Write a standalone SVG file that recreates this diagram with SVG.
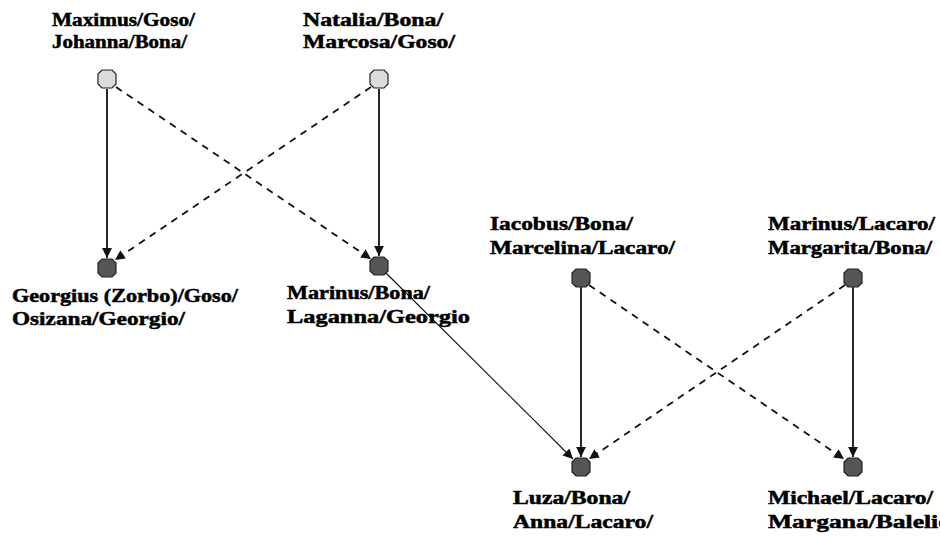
<svg xmlns="http://www.w3.org/2000/svg" width="940" height="536" viewBox="0 0 940 536">
  <style>
    .lbl { font-family: "Liberation Serif", "DejaVu Serif", serif; font-weight: bold; font-size: 18.5px; fill: #000; stroke: #000; stroke-width: 0.5; }
    .node { stroke: #222; stroke-width: 1.2; }
    .parent { fill: #dcdcdc; }
    .child { fill: #555; }
    .edge { fill: none; stroke: #111; stroke-width: 1.8; }
    .dash { stroke-dasharray: 7 6; }
    .thin { stroke-width: 1.1; }
  </style>
  <defs>
    <marker id="arrow" viewBox="0 0 10 10" refX="10" refY="5" markerWidth="5.5" markerHeight="5.5" orient="auto" markerUnits="strokeWidth">
      <path d="M0,0 L10,5 L0,10 z" fill="#111"/>
    </marker>
    <marker id="arrowThin" viewBox="0 0 10 10" refX="10" refY="5" markerWidth="9" markerHeight="9" orient="auto" markerUnits="strokeWidth">
      <path d="M0,0 L10,5 L0,10 z" fill="#111"/>
    </marker>
    <path id="oct" d="M-5,-9 H5 L9,-5 V5 L5,9 H-5 L-9,5 V-5 Z"/>
  </defs>

  <rect width="940" height="536" fill="#fff"/>

  <g id="connectors">
    <line class="edge" x1="107" y1="89" x2="107" y2="258" marker-end="url(#arrow)"/>
    <line class="edge dash" x1="116" y1="87" x2="371" y2="259" marker-end="url(#arrow)"/>
    <line class="edge dash" x1="371" y1="87" x2="115" y2="260" marker-end="url(#arrow)"/>
    <line class="edge" x1="379" y1="89" x2="379" y2="256" marker-end="url(#arrow)"/>
    <line class="edge thin" x1="386" y1="273" x2="573" y2="459" marker-end="url(#arrowThin)"/>
    <line class="edge" x1="581" y1="287" x2="581" y2="457" marker-end="url(#arrow)"/>
    <line class="edge dash" x1="589" y1="285" x2="844" y2="459" marker-end="url(#arrow)"/>
    <line class="edge dash" x1="845" y1="285" x2="589" y2="459" marker-end="url(#arrow)"/>
    <line class="edge" x1="853" y1="287" x2="853" y2="457" marker-end="url(#arrow)"/>
  </g>

  <g id="maximus-goso">
    <use href="#oct" class="node parent" x="107" y="79"/>
    <text class="lbl" x="52" y="26" textLength="143" lengthAdjust="spacingAndGlyphs">Maximus/Goso/</text>
    <text class="lbl" x="52" y="48" textLength="135" lengthAdjust="spacingAndGlyphs">Johanna/Bona/</text>
  </g>

  <g id="natalia-bona">
    <use href="#oct" class="node parent" x="379" y="79"/>
    <text class="lbl" x="303" y="26" textLength="140" lengthAdjust="spacingAndGlyphs">Natalia/Bona/</text>
    <text class="lbl" x="303" y="48" textLength="152" lengthAdjust="spacingAndGlyphs">Marcosa/Goso/</text>
  </g>

  <g id="georgius-goso">
    <use href="#oct" class="node child" x="107" y="268"/>
    <text class="lbl" x="12" y="302" textLength="226" lengthAdjust="spacingAndGlyphs">Georgius (Zorbo)/Goso/</text>
    <text class="lbl" x="12" y="325" textLength="173" lengthAdjust="spacingAndGlyphs">Osizana/Georgio/</text>
  </g>

  <g id="marinus-bona">
    <use href="#oct" class="node child" x="379" y="266"/>
    <text class="lbl" x="287" y="299" textLength="143" lengthAdjust="spacingAndGlyphs">Marinus/Bona/</text>
    <text class="lbl" x="287" y="323" textLength="183" lengthAdjust="spacingAndGlyphs">Laganna/Georgio</text>
  </g>

  <g id="iacobus-bona">
    <use href="#oct" class="node child" x="581" y="278"/>
    <text class="lbl" x="490" y="230" textLength="143" lengthAdjust="spacingAndGlyphs">Iacobus/Bona/</text>
    <text class="lbl" x="490" y="254" textLength="185" lengthAdjust="spacingAndGlyphs">Marcelina/Lacaro/</text>
  </g>

  <g id="marinus-lacaro">
    <use href="#oct" class="node child" x="853" y="278"/>
    <text class="lbl" x="768" y="230" textLength="167" lengthAdjust="spacingAndGlyphs">Marinus/Lacaro/</text>
    <text class="lbl" x="768" y="254" textLength="164" lengthAdjust="spacingAndGlyphs">Margarita/Bona/</text>
  </g>

  <g id="luza-bona">
    <use href="#oct" class="node child" x="581" y="467"/>
    <text class="lbl" x="513" y="504" textLength="117" lengthAdjust="spacingAndGlyphs">Luza/Bona/</text>
    <text class="lbl" x="513" y="528" textLength="140" lengthAdjust="spacingAndGlyphs">Anna/Lacaro/</text>
  </g>

  <g id="michael-lacaro">
    <use href="#oct" class="node child" x="853" y="467"/>
    <text class="lbl" x="768" y="504" textLength="165" lengthAdjust="spacingAndGlyphs">Michael/Lacaro/</text>
    <text class="lbl" x="768" y="528" textLength="190" lengthAdjust="spacingAndGlyphs">Margana/Balelio/</text>
  </g>
</svg>
